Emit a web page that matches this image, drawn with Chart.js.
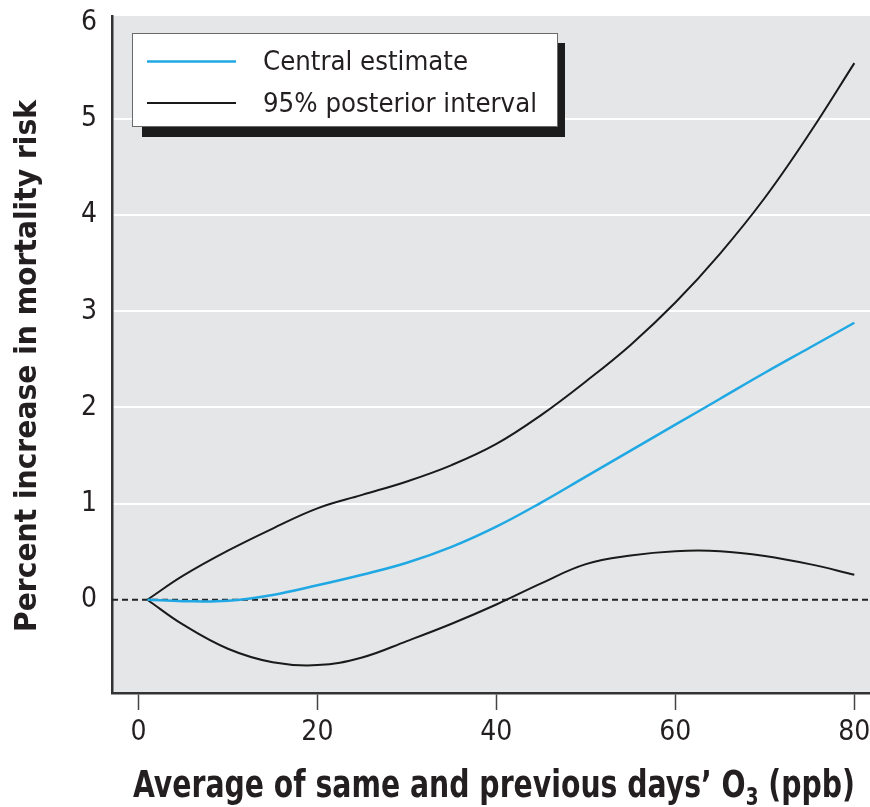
<!DOCTYPE html>
<html>
<head>
<meta charset="utf-8">
<script src="https://cdn.jsdelivr.net/npm/chart.js@4.4.1/dist/chart.umd.min.js"></script>
<style>
  html, body { margin: 0; padding: 0; background: #ffffff; }
  #wrap { width: 870px; height: 807px; position: relative; }
</style>
</head>
<body>
<div id="wrap"><canvas id="c" width="870" height="807"></canvas></div>
<script>
// ---- Data ----
const ozone    = [1, 5, 10, 15, 20, 25, 30, 35, 40, 45, 50, 55, 60, 65, 70, 75, 80];
const central  = [0, -0.015, -0.01, 0.05, 0.15, 0.26, 0.385, 0.55, 0.76, 1.01, 1.28, 1.55, 1.82, 2.09, 2.36, 2.62, 2.88];
const upper    = [0, 0.25, 0.51, 0.74, 0.95, 1.09, 1.23, 1.40, 1.62, 1.92, 2.27, 2.65, 3.09, 3.60, 4.18, 4.85, 5.58];
const lower    = [0, -0.26, -0.51, -0.65, -0.68, -0.60, -0.43, -0.25, -0.05, 0.17, 0.37, 0.46, 0.505, 0.505, 0.455, 0.37, 0.26];
const xTicks   = [0, 20, 40, 60, 80];
const yTicks   = [0, 1, 2, 3, 4, 5, 6];
const legendLabels = ['Central estimate', '95% posterior interval'];
const xTitle   = ['Average of same and previous days\u2019 O', '3', ' (ppb)'];
const yTitle   = 'Percent increase in mortality risk';

const X_MIN = -2.95, X_MAX = 81.75, Y_MIN = -0.97, Y_MAX = 6.07;
const FAM = '"Liberation Sans Narrow", "Arial Narrow", "DejaVu Sans Condensed", sans-serif';
const TXT = '#231f20';
const BLUE = '#1fa8e3';

const toXY = (ys) => ozone.map((x, i) => ({ x: x, y: ys[i] }));

function fitText(ctx, text, x, y, width) {
  const w = ctx.measureText(text).width;
  ctx.save();
  ctx.translate(x, y);
  ctx.scale(width / w, 1);
  ctx.fillText(text, 0, 0);
  ctx.restore();
}

const decor = {
  id: 'decor',
  beforeDraw(chart) {
    const { ctx, chartArea: a } = chart;
    ctx.save();
    ctx.fillStyle = '#e5e6e7';
    ctx.fillRect(a.left, a.top, a.right - a.left, a.bottom - a.top);
    ctx.restore();
  },
  afterDraw(chart) {
    const { ctx } = chart;
    // Legend box with drop shadow
    ctx.save();
    ctx.fillStyle = '#1c1c1c';
    ctx.fillRect(142, 43, 423, 94);
    ctx.fillStyle = '#ffffff';
    ctx.fillRect(132, 33, 426, 94);
    ctx.strokeStyle = '#6a6a6a';
    ctx.lineWidth = 1;
    ctx.strokeRect(132.5, 33.5, 425, 93);
    ctx.lineWidth = 2.5;
    ctx.strokeStyle = BLUE;
    ctx.beginPath(); ctx.moveTo(147, 61.5); ctx.lineTo(236, 61.5); ctx.stroke();
    ctx.lineWidth = 2;
    ctx.strokeStyle = '#1a1a1a';
    ctx.beginPath(); ctx.moveTo(147, 103); ctx.lineTo(236, 103); ctx.stroke();
    ctx.fillStyle = TXT;
    ctx.font = '26px ' + FAM;
    ctx.textBaseline = 'alphabetic';
    ctx.textAlign = 'left';
    fitText(ctx, legendLabels[0], 263, 70, 205);
    fitText(ctx, legendLabels[1], 263, 112, 274);

    // Y title
    ctx.font = 'bold 31px ' + FAM;
    ctx.save();
    ctx.translate(36, 632);
    ctx.rotate(-Math.PI / 2);
    fitText(ctx, yTitle, 0, 0, 532);
    ctx.restore();

    // X title with subscript
    ctx.font = 'bold 37px ' + FAM;
    const w0 = ctx.measureText(xTitle[0]).width;
    const w2 = ctx.measureText(xTitle[2]).width;
    ctx.font = 'bold 24px ' + FAM;
    const w1 = ctx.measureText(xTitle[1]).width;
    const total = w0 + w1 + w2;
    const s = 722 / total;
    ctx.save();
    ctx.translate(133, 797);
    ctx.scale(s, 1);
    ctx.font = 'bold 37px ' + FAM;
    ctx.fillText(xTitle[0], 0, 0);
    ctx.font = 'bold 24px ' + FAM;
    ctx.fillText(xTitle[1], w0, 8);
    ctx.font = 'bold 37px ' + FAM;
    ctx.fillText(xTitle[2], w0 + w1, 0);
    ctx.restore();
    ctx.restore();
  }
};

function noPad(sc) {
  sc.paddingTop = 0; sc.paddingBottom = 0; sc.paddingLeft = 0; sc.paddingRight = 0;
}

new Chart(document.getElementById('c'), {
  type: 'line',
  data: {
    datasets: [
      { label: legendLabels[0], data: toXY(central), borderColor: BLUE, borderWidth: 2.5,
        pointRadius: 0, tension: 0.4, fill: false },
      { label: legendLabels[1], data: toXY(upper), borderColor: '#1a1a1a', borderWidth: 2,
        pointRadius: 0, tension: 0.4, fill: false },
      { label: legendLabels[1] + ' (lower)', data: toXY(lower), borderColor: '#1a1a1a', borderWidth: 2,
        pointRadius: 0, tension: 0.4, fill: false },
      { label: 'zero', data: [{ x: X_MIN, y: 0 }, { x: X_MAX, y: 0 }], borderColor: '#222',
        borderWidth: 2, borderDash: [6, 4], pointRadius: 0, tension: 0, fill: false }
    ]
  },
  options: {
    responsive: false,
    animation: false,
    events: [],
    layout: { padding: { top: 16, right: 0, left: 0, bottom: 0 } },
    plugins: { legend: { display: false }, tooltip: { enabled: false }, title: { display: false } },
    scales: {
      x: {
        type: 'linear', min: X_MIN, max: X_MAX,
        afterBuildTicks: (sc) => { sc.ticks = xTicks.map(v => ({ value: v })); },
        afterFit: (sc) => { sc.height = 114; noPad(sc); },
        grid: { drawOnChartArea: false, drawTicks: true, tickLength: 17, tickColor: '#444', tickWidth: 1.5 },
        border: { display: true, color: '#333', width: 2.5 },
        ticks: { color: TXT, font: { family: FAM, size: 28 }, padding: 6, maxRotation: 0, autoSkip: false }
      },
      y: {
        type: 'linear', min: Y_MIN, max: Y_MAX,
        afterBuildTicks: (sc) => { sc.ticks = yTicks.map(v => ({ value: v })); },
        afterFit: (sc) => { sc.width = 112; noPad(sc); },
        grid: {
          drawTicks: false,
          color: (ctx) => (ctx.tick && ctx.tick.value >= 1 && ctx.tick.value <= 5) ? '#ffffff' : 'rgba(0,0,0,0)',
          lineWidth: 2
        },
        border: { display: true, color: '#333', width: 2.5 },
        ticks: { color: TXT, font: { family: FAM, size: 28 }, padding: 15, autoSkip: false }
      }
    }
  },
  plugins: [decor]
});
</script>
</body>
</html>
